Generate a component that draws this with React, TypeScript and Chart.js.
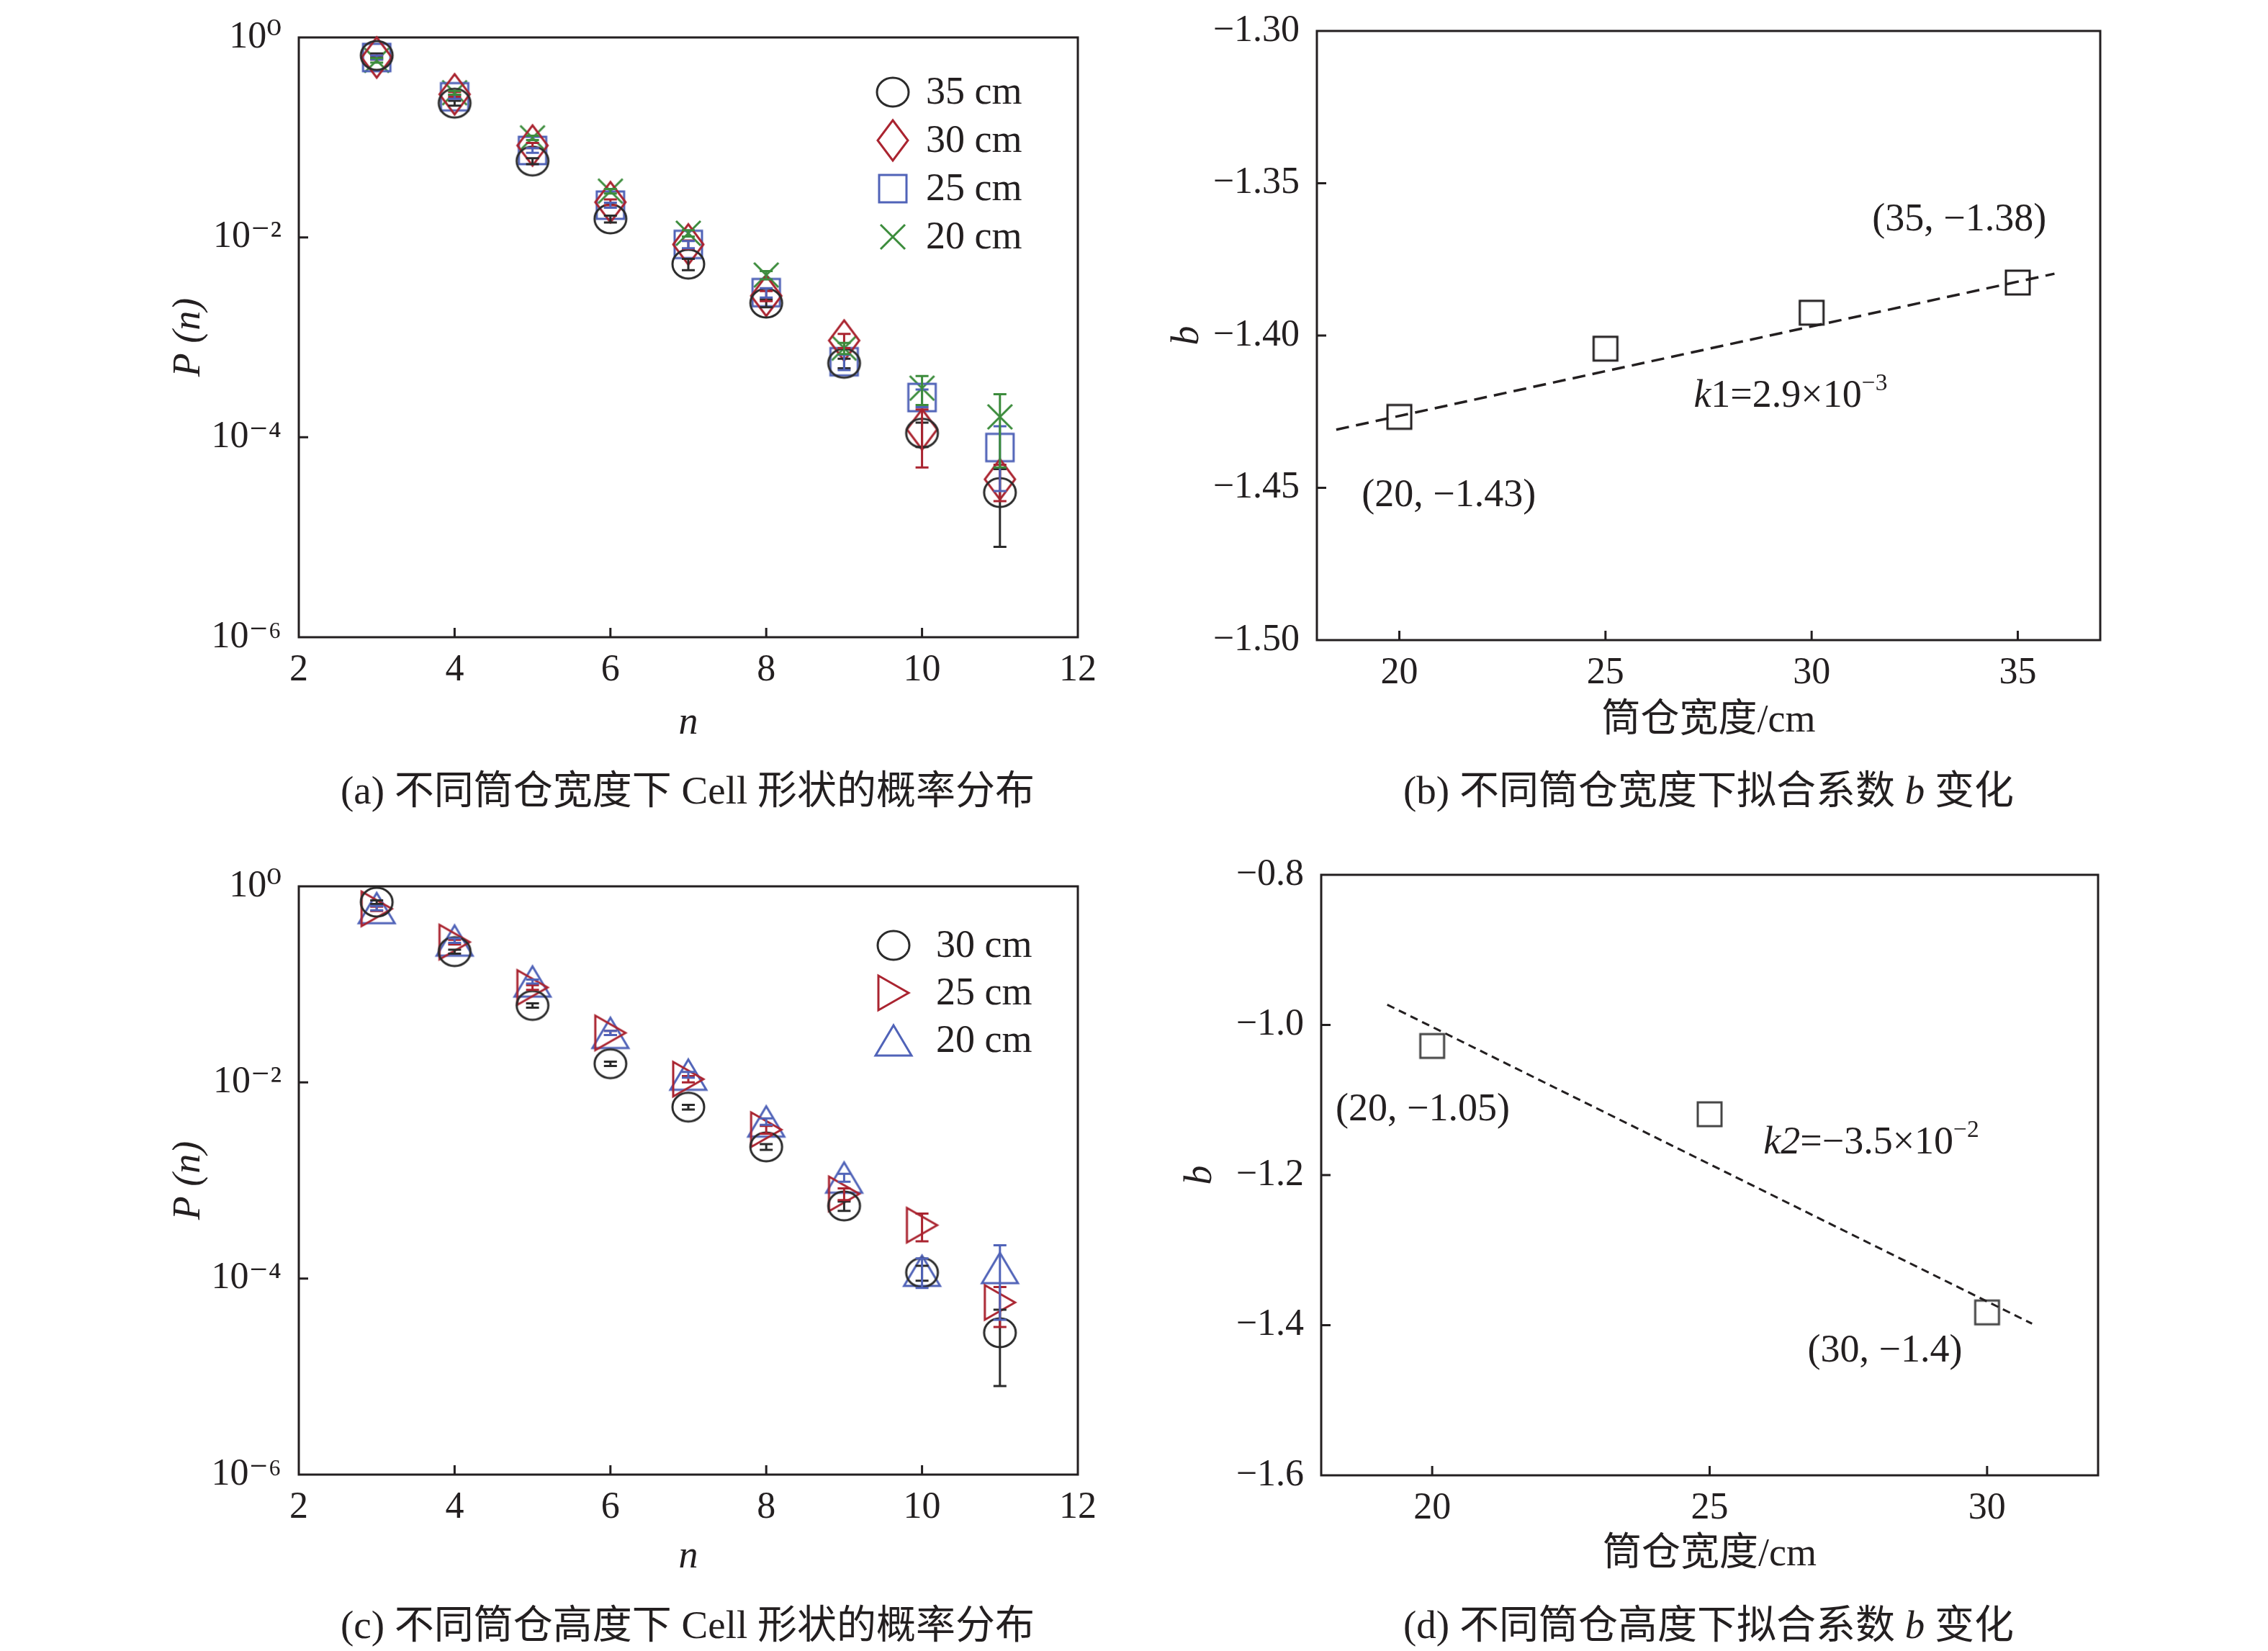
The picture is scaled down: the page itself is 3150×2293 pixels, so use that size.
import React, { useEffect, useRef } from 'react';
import { Chart, registerables } from 'chart.js';

Chart.register(...registerables);

// ---------- data ----------
const nValues = [3, 4, 5, 6, 7, 8, 9, 10, 11];

const widthSeriesLabels = ['35 cm', '30 cm', '25 cm', '20 cm'];
const pW35 = [0.66, 0.22, 0.058, 0.0153, 0.0054, 0.0022, 0.00055, 0.00011, 0.000028];
const pW30 = [0.63, 0.27, 0.083, 0.0225, 0.0085, 0.0026, 0.00093, 0.00012, 0.000038];
const pW25 = [0.63, 0.255, 0.074, 0.021, 0.0085, 0.0028, 0.00057, 0.00025, 0.000079];
const pW20 = [0.59, 0.28, 0.099, 0.029, 0.011, 0.0042, 0.00078, 0.00031, 0.00016];
const eW35 = [0.03, 0.012, 0.004, 0.0012, 0.0007, 0.0002, 0.00006, 0.00003, 0.00002];
const eW30 = [0.03, 0.015, 0.005, 0.0015, 0.0008, 0.0003, 0.00015, 0.00007, 0.000015];
const eW25 = [0.03, 0.012, 0.004, 0.0012, 0.0007, 0.0003, 0.0001, 0.00005, 0.00005];
const eW20 = [0.03, 0.012, 0.005, 0.0015, 0.0008, 0.0004, 0.0001, 0.0001, 0.00011];

const heightSeriesLabels = ['30 cm', '25 cm', '20 cm'];
const pH30 = [0.69, 0.216, 0.061, 0.0155, 0.0056, 0.0022, 0.00055, 0.000115, 0.000028];
const pH25 = [0.59, 0.27, 0.093, 0.032, 0.0108, 0.0033, 0.00073, 0.00035, 0.000057];
const pH20 = [0.6, 0.28, 0.107, 0.032, 0.012, 0.004, 0.00107, 0.00012, 0.000128];
const eH30 = [0.03, 0.01, 0.003, 0.0008, 0.0003, 0.00015, 0.00006, 0.00002, 0.00002];
const eH25 = [0.03, 0.015, 0.005, 0.0015, 0.0008, 0.0003, 0.0001, 0.00011, 0.000025];
const eH20 = [0.03, 0.015, 0.005, 0.0015, 0.0008, 0.0003, 0.0001, 0.00004, 0.00009];

const logTicks = [1e-6, 1e-4, 1e-2, 1];
const nTicks = [2, 4, 6, 8, 10, 12];

const widthValues = [20, 25, 30, 35];
const bWidth = [-1.4267, -1.4043, -1.3925, -1.3826];
const fitWidthX = [18.47, 35.89];
const fitWidthY = [-1.4309, -1.3797];
const widthTicks = [20, 25, 30, 35];
const bWidthTicks = [-1.5, -1.45, -1.4, -1.35, -1.3];

const heightValues = [20, 25, 30];
const bHeight = [-1.028, -1.119, -1.383];
const fitHeightX = [19.19, 30.81];
const fitHeightY = [-0.973, -1.398];
const heightTicks = [20, 25, 30];
const bHeightTicks = [-1.6, -1.4, -1.2, -1.0, -0.8];

// ---------- styles ----------
const SERIF = "'Liberation Serif', 'DejaVu Serif', serif";
const CAPFONT = "'Liberation Serif', 'Noto Sans CJK SC', serif";
const INK = '#231f20';
const BLACK = '#2b2b2b';
const RED = '#aa2430';
const BLUE = '#5063b8';
const GREEN = '#3c8c3c';
const GRAY = '#454545';

const SUP: Record<string, string> = { '0': '⁰', '1': '¹', '2': '²', '3': '³', '4': '⁴', '5': '⁵', '6': '⁶', '7': '⁷', '8': '⁸', '9': '⁹', '-': '⁻' };
const sup = (s: string) => s.split('').map((c) => SUP[c] ?? c).join('');
const minus = (s: string) => s.replace('-', '−');

function marker(shape: string, color: string, w: number, h: number, lw = 3): HTMLCanvasElement {
  const pad = lw + 2;
  const c = document.createElement('canvas');
  c.width = Math.ceil(w + 2 * pad);
  c.height = Math.ceil(h + 2 * pad);
  const ctx = c.getContext('2d')!;
  ctx.strokeStyle = color;
  ctx.lineWidth = lw;
  const cx = c.width / 2;
  const cy = c.height / 2;
  const rx = w / 2;
  const ry = h / 2;
  ctx.beginPath();
  if (shape === 'circle') ctx.ellipse(cx, cy, rx, ry, 0, 0, Math.PI * 2);
  else if (shape === 'diamond') {
    ctx.moveTo(cx, cy - ry); ctx.lineTo(cx + rx, cy); ctx.lineTo(cx, cy + ry); ctx.lineTo(cx - rx, cy); ctx.closePath();
  } else if (shape === 'square') ctx.rect(cx - rx, cy - ry, w, h);
  else if (shape === 'cross') {
    ctx.moveTo(cx - rx, cy - ry); ctx.lineTo(cx + rx, cy + ry); ctx.moveTo(cx + rx, cy - ry); ctx.lineTo(cx - rx, cy + ry);
  } else if (shape === 'triUp') {
    ctx.moveTo(cx, cy - ry); ctx.lineTo(cx + rx, cy + ry); ctx.lineTo(cx - rx, cy + ry); ctx.closePath();
  } else if (shape === 'triRight') {
    ctx.moveTo(cx + rx, cy); ctx.lineTo(cx - rx, cy + ry); ctx.lineTo(cx - rx, cy - ry); ctx.closePath();
  }
  ctx.stroke();
  return c;
}

// ---------- plugins ----------
const framePlugin = {
  id: 'frame',
  beforeDatasetsDraw(chart: any) {
    const { ctx, chartArea: a, scales } = chart;
    ctx.save();
    ctx.strokeStyle = INK;
    ctx.lineWidth = 3;
    ctx.strokeRect(a.left, a.top, a.right - a.left, a.bottom - a.top);
    const tl = 13;
    ctx.beginPath();
    scales.x.ticks.forEach((t: any) => {
      const p = scales.x.getPixelForValue(t.value);
      if (p > a.left + 3 && p < a.right - 3) { ctx.moveTo(p, a.bottom); ctx.lineTo(p, a.bottom - tl); }
    });
    scales.y.ticks.forEach((t: any) => {
      const p = scales.y.getPixelForValue(t.value);
      if (p > a.top + 3 && p < a.bottom - 3) { ctx.moveTo(a.left, p); ctx.lineTo(a.left + tl, p); }
    });
    ctx.stroke();
    ctx.restore();
  },
};

const errorBarPlugin = {
  id: 'errbars',
  afterDatasetsDraw(chart: any) {
    const { ctx, scales } = chart;
    const x = scales.x;
    const y = scales.y;
    chart.data.datasets.forEach((ds: any) => {
      if (!ds.errors) return;
      ctx.save();
      ctx.strokeStyle = ds.borderColor;
      ctx.lineWidth = 3;
      ds.data.forEach((pt: any, i: number) => {
        const e = ds.errors[i];
        const px = x.getPixelForValue(pt.x);
        const lo = Math.max(pt.y - e, 1e-9);
        const hi = pt.y + e;
        const y1 = y.getPixelForValue(lo);
        const y2 = y.getPixelForValue(hi);
        ctx.beginPath();
        ctx.moveTo(px, y1); ctx.lineTo(px, y2);
        ctx.moveTo(px - 9, y1); ctx.lineTo(px + 9, y1);
        ctx.moveTo(px - 9, y2); ctx.lineTo(px + 9, y2);
        ctx.stroke();
      });
      ctx.restore();
    });
  },
};

const legendPlugin = {
  id: 'inlegend',
  afterDraw(chart: any, _args: any, opts: any) {
    if (!opts || !opts.items) return;
    const { ctx, chartArea: a } = chart;
    ctx.save();
    ctx.fillStyle = INK;
    ctx.font = `${opts.size}px ${SERIF}`;
    ctx.textBaseline = 'middle';
    ctx.textAlign = 'left';
    opts.items.forEach((it: any, i: number) => {
      const mx = a.left + opts.dx;
      const my = a.top + opts.dy + i * opts.gap;
      ctx.drawImage(it.img, mx - it.img.width / 2, my - it.img.height / 2);
      ctx.fillText(it.text, mx + opts.textDx, my + 2);
    });
    ctx.restore();
  },
};

function drawRich(ctx: CanvasRenderingContext2D, segs: any[], x: number, y: number, align: string, size: number) {
  const font = (s: number, it: boolean) => `${it ? 'italic ' : ''}${s}px ${SERIF}`;
  let total = 0;
  const widths = segs.map((sg) => {
    ctx.font = font(sg.sup ? size * 0.62 : size, !!sg.italic);
    const w = ctx.measureText(sg.t).width;
    total += w;
    return w;
  });
  let cx = align === 'center' ? x - total / 2 : x;
  ctx.textAlign = 'left';
  ctx.textBaseline = 'alphabetic';
  const base = y + size * 0.33;
  segs.forEach((sg, i) => {
    ctx.font = font(sg.sup ? size * 0.62 : size, !!sg.italic);
    ctx.fillText(sg.t, cx, sg.sup ? base - size * 0.42 : base);
    cx += widths[i];
  });
}

const notesPlugin = {
  id: 'notes',
  afterDraw(chart: any, _args: any, opts: any) {
    if (!opts || !opts.items) return;
    const { ctx, scales } = chart;
    ctx.save();
    ctx.fillStyle = INK;
    opts.items.forEach((it: any) => {
      drawRich(ctx, it.segs, scales.x.getPixelForValue(it.x), scales.y.getPixelForValue(it.y), it.align, opts.size);
    });
    ctx.restore();
  },
};

// ---------- panel configs ----------
type Rect = { x: number; y: number; w: number; h: number };
type Area = { l: number; t: number; r: number; b: number };

function buildConfig(p: any) {
  const c: Rect = p.canvas;
  const a: Area = p.area;
  const titleSize = 54;
  const lh = 1.2;
  const yAxisW = a.l - c.x;
  const xAxisH = c.y + c.h - a.b;
  const yTitlePad = p.yTitleX - c.x - (titleSize * lh) / 2;
  const xTitlePad = c.y + c.h - p.xTitleY - (titleSize * lh) / 2;
  const tickFont = { family: SERIF, size: 52, lineHeight: lh };
  const zeroPad = (s: any) => { s.paddingTop = 0; s.paddingBottom = 0; s.paddingLeft = 0; s.paddingRight = 0; };
  return {
    type: 'scatter',
    data: { datasets: p.datasets },
    plugins: [framePlugin, errorBarPlugin, legendPlugin, notesPlugin],
    options: {
      responsive: false,
      animation: false,
      devicePixelRatio: 1,
      layout: { padding: { top: a.t - c.y, right: c.x + c.w - a.r, left: 0, bottom: 0 } },
      plugins: {
        legend: { display: false },
        tooltip: { enabled: false },
        inlegend: p.legend || {},
        notes: p.notes || {},
      },
      scales: {
        x: {
          type: 'linear',
          min: p.xMin,
          max: p.xMax,
          afterBuildTicks: (s: any) => { s.ticks = p.xTicks.map((v: number) => ({ value: v })); },
          afterFit: (s: any) => { s.height = xAxisH; zeroPad(s); },
          grid: { display: false, drawTicks: false },
          border: { display: false },
          ticks: { font: tickFont, color: INK, padding: 15, maxRotation: 0, autoSkip: false, callback: (v: any) => String(v) },
          title: {
            display: true, text: p.xTitle, color: INK,
            font: { family: p.xTitleItalic ? SERIF : CAPFONT, size: titleSize, style: p.xTitleItalic ? 'italic' : 'normal', lineHeight: lh },
            padding: { top: 0, bottom: xTitlePad },
          },
        },
        y: {
          type: p.yType,
          min: p.yMin,
          max: p.yMax,
          afterBuildTicks: (s: any) => { s.ticks = p.yTicks.map((v: number) => ({ value: v })); },
          afterFit: (s: any) => { s.width = yAxisW; zeroPad(s); },
          grid: { display: false, drawTicks: false },
          border: { display: false },
          ticks: { font: tickFont, color: INK, padding: 24, autoSkip: false, callback: p.yFormat },
          title: {
            display: true, text: p.yTitle, color: INK,
            font: { family: SERIF, size: titleSize, style: 'italic', lineHeight: lh },
            padding: { top: yTitlePad, bottom: 0 },
          },
        },
      },
    },
  };
}

const pts = (xs: number[], ys: number[]) => xs.map((x, i) => ({ x, y: ys[i] }));

function scatterSet(label: string, xs: number[], ys: number[], errs: number[] | null, img: HTMLCanvasElement, color: string) {
  return {
    type: 'scatter', label, data: pts(xs, ys), errors: errs, pointStyle: img, pointRadius: 20,
    borderColor: color, backgroundColor: 'transparent', clip: false,
  };
}

function fitSet(xs: number[], ys: number[], dash: number[], width: number) {
  return {
    type: 'scatter', data: pts(xs, ys), showLine: true, pointRadius: 0, borderColor: INK, borderWidth: width,
    borderDash: dash, backgroundColor: 'transparent', clip: false,
  };
}

function panelA() {
  const m = [
    marker('circle', BLACK, 44, 40),
    marker('diamond', RED, 42, 56),
    marker('square', BLUE, 38, 38),
    marker('cross', GREEN, 34, 34),
  ];
  const series = [pW35, pW30, pW25, pW20];
  const errs = [eW35, eW30, eW25, eW20];
  const colors = [BLACK, RED, BLUE, GREEN];
  return {
    canvas: { x: 0, y: 0, w: 1575, h: 1045 }, area: { l: 415, t: 52, r: 1497, b: 885 },
    yTitleX: 263, xTitleY: 1005, yTitle: 'P (n)', xTitle: 'n', xTitleItalic: true,
    xMin: 2, xMax: 12, xTicks: nTicks, yType: 'logarithmic', yMin: 1e-6, yMax: 1, yTicks: logTicks,
    yFormat: (v: any) => '10' + sup(String(Math.round(Math.log10(v)))),
    datasets: series.map((s, i) => scatterSet(widthSeriesLabels[i], nValues, s, errs[i], m[i], colors[i])),
    legend: { items: widthSeriesLabels.map((t, i) => ({ text: t, img: m[i] })), dx: 825, dy: 76, gap: 67, textDx: 46, size: 54 },
  };
}

function panelC() {
  const m = [
    marker('circle', BLACK, 44, 40),
    marker('triRight', RED, 42, 48),
    marker('triUp', BLUE, 50, 42),
  ];
  const series = [pH30, pH25, pH20];
  const errs = [eH30, eH25, eH20];
  const colors = [BLACK, RED, BLUE];
  return {
    canvas: { x: 0, y: 1160, w: 1575, h: 1045 }, area: { l: 415, t: 1231, r: 1497, b: 2048 },
    yTitleX: 263, xTitleY: 2163, yTitle: 'P (n)', xTitle: 'n', xTitleItalic: true,
    xMin: 2, xMax: 12, xTicks: nTicks, yType: 'logarithmic', yMin: 1e-6, yMax: 1, yTicks: logTicks,
    yFormat: (v: any) => '10' + sup(String(Math.round(Math.log10(v)))),
    datasets: series.map((s, i) => scatterSet(heightSeriesLabels[i], nValues, s, errs[i], m[i], colors[i])),
    legend: { items: heightSeriesLabels.map((t, i) => ({ text: t, img: m[i] })), dx: 826, dy: 82, gap: 66, textDx: 59, size: 54 },
  };
}

function panelB() {
  const sq = marker('square', INK, 33, 33);
  return {
    canvas: { x: 1575, y: 0, w: 1575, h: 1045 }, area: { l: 1829, t: 43, r: 2917, b: 889 },
    yTitleX: 1650, xTitleY: 1002, yTitle: 'b', xTitle: '筒仓宽度/cm', xTitleItalic: false,
    xMin: 18, xMax: 37, xTicks: widthTicks, yType: 'linear', yMin: -1.5, yMax: -1.3, yTicks: bWidthTicks,
    yFormat: (v: any) => minus(Number(v).toFixed(2)),
    datasets: [
      fitSet(fitWidthX, fitWidthY, [18, 10], 3.5),
      scatterSet('b', widthValues, bWidth, null, sq, INK),
    ],
    notes: {
      size: 54,
      items: [
        { x: 33.58, y: -1.3612, align: 'center', segs: [{ t: '(35, −1.38)' }] },
        { x: 21.2, y: -1.4518, align: 'center', segs: [{ t: '(20, −1.43)' }] },
        { x: 27.14, y: -1.4191, align: 'left', segs: [{ t: 'k', italic: true }, { t: '1=2.9×10' }, { t: '−3', sup: true }] },
      ],
    },
  };
}

function panelD() {
  const sq = marker('square', GRAY, 33, 33);
  return {
    canvas: { x: 1575, y: 1160, w: 1575, h: 1045 }, area: { l: 1835, t: 1215, r: 2914, b: 2049 },
    yTitleX: 1668, xTitleY: 2160, yTitle: 'b', xTitle: '筒仓宽度/cm', xTitleItalic: false,
    xMin: 18, xMax: 32, xTicks: heightTicks, yType: 'linear', yMin: -1.6, yMax: -0.8, yTicks: bHeightTicks,
    yFormat: (v: any) => minus(Number(v).toFixed(1)),
    datasets: [
      fitSet(fitHeightX, fitHeightY, [11, 7], 3),
      scatterSet('b', heightValues, bHeight, null, sq, GRAY),
    ],
    notes: {
      size: 54,
      items: [
        { x: 19.83, y: -1.11, align: 'center', segs: [{ t: '(20, −1.05)' }] },
        { x: 25.97, y: -1.154, align: 'left', segs: [{ t: 'k2', italic: true }, { t: '=−3.5×10' }, { t: '−2', sup: true }] },
        { x: 28.16, y: -1.431, align: 'center', segs: [{ t: '(30, −1.4)' }] },
      ],
    },
  };
}

const panelRects: Rect[] = [
  { x: 0, y: 0, w: 1575, h: 1045 },
  { x: 1575, y: 0, w: 1575, h: 1045 },
  { x: 0, y: 1160, w: 1575, h: 1045 },
  { x: 1575, y: 1160, w: 1575, h: 1045 },
];
const panelMakers = [panelA, panelB, panelC, panelD];

function ChartPanel({ index }: { index: number }) {
  const ref = useRef<HTMLCanvasElement>(null);
  const r = panelRects[index];
  useEffect(() => {
    const cfg = buildConfig(panelMakers[index]());
    const chart = new Chart(ref.current as HTMLCanvasElement, cfg as any);
    return () => chart.destroy();
  }, [index]);
  return (
    <canvas
      ref={ref}
      width={r.w}
      height={r.h}
      style={{ position: 'absolute', left: r.x, top: r.y, width: r.w, height: r.h }}
    />
  );
}

const captionStyle = (x: number, y: number): React.CSSProperties => ({
  position: 'absolute', left: x, top: y, transform: 'translate(-50%, -50%)', whiteSpace: 'nowrap',
  fontFamily: CAPFONT, fontSize: 55, lineHeight: 1, color: INK,
});

export default function App() {
  useEffect(() => {
    document.body.style.margin = '0';
  }, []);
  return (
    <div style={{ position: 'relative', width: 3150, height: 2293, background: '#fff', overflow: 'hidden' }}>
      {[0, 1, 2, 3].map((i) => <ChartPanel key={i} index={i} />)}
      <div style={captionStyle(955, 1097)}>(a) 不同筒仓宽度下 Cell 形状的概率分布</div>
      <div style={captionStyle(2373, 1097)}>(b) 不同筒仓宽度下拟合系数 <i>b</i> 变化</div>
      <div style={captionStyle(955, 2256)}>(c) 不同筒仓高度下 Cell 形状的概率分布</div>
      <div style={captionStyle(2373, 2256)}>(d) 不同筒仓高度下拟合系数 <i>b</i> 变化</div>
    </div>
  );
}
